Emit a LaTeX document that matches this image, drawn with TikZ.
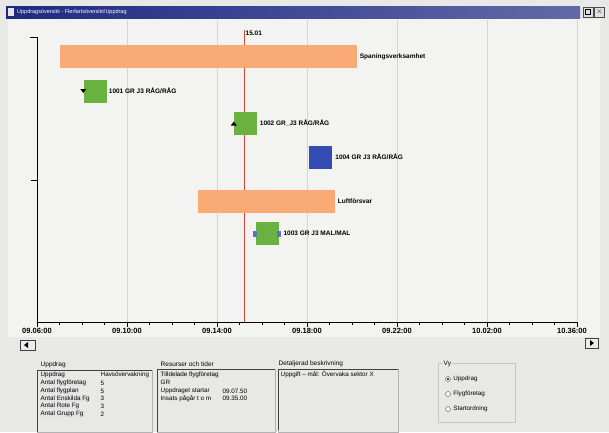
\documentclass[tikz,border=0pt]{standalone}
\usepackage{fontspec}
\setmainfont{Liberation Sans}
\usetikzlibrary{positioning}
\definecolor{winbg}{RGB}{232,232,230}
\definecolor{plotbg}{RGB}{243,243,241}
\definecolor{titleblue}{RGB}{30,42,130}
\definecolor{gridgray}{RGB}{212,212,212}
\definecolor{barorange}{RGB}{250,170,116}
\definecolor{taskgreen}{RGB}{106,178,64}
\definecolor{taskblue}{RGB}{50,76,178}
\definecolor{nowred}{RGB}{205,72,56}
\tikzset{
 bar/.style={fill=barorange,draw=none,minimum height=23pt,inner sep=0pt},
 task/.style={fill=taskgreen,draw=none,minimum width=23pt,minimum height=23pt,inner sep=0pt},
 handle/.style={fill=taskblue!80,draw=none,minimum width=4pt,minimum height=6pt,inner sep=0pt},
 tasklabel/.style={font=\fontsize{6.5}{7}\selectfont\bfseries,inner sep=0.5pt},
 timelabel/.style={font=\fontsize{7.5}{8}\selectfont\bfseries,below,inner sep=1pt},
 gridline/.style={gridgray,line width=0.5pt},
 axisline/.style={black,line width=0.7pt},
 paneltitle/.style={font=\fontsize{6.5}{7}\selectfont,anchor=west,inner sep=0.5pt},
 paneltext/.style={font=\fontsize{6.3}{7}\selectfont,anchor=west,inner sep=0.5pt},
 panelbox/.style={draw=gray!60,line width=0.6pt},
 sunken/.style={draw=black!75,line width=0.7pt},
 winbtn/.style={draw=black!70,fill=gray!25,minimum width=10pt,minimum height=10pt,inner sep=0pt,font=\fontsize{7}{7}\selectfont\bfseries},
 radio/.style={circle,draw=black!70,fill=white,minimum size=5pt,inner sep=0pt},
}
\begin{document}
\begin{tikzpicture}[x=1pt,y=-1pt]
 \useasboundingbox (0,0) rectangle (609,432);
 \fill[winbg] (0,0) rectangle (609,432);
 \fill[plotbg] (8,19) rectangle (600,337);
 \shade[left color=titleblue,right color=titleblue!70!white] (6,6) rectangle (580,18);
 \fill[white!80!gray] (8,8) rectangle (14,16);
 \node[font=\fontsize{5.5}{6}\selectfont,text=white,anchor=west,inner sep=0pt] (win title) at (17,12) {Uppdragsöversikt - Flerfartsöversikt/Uppdrag};
 \node[winbtn] (btn max) at (588,12) {};
 \draw[black,line width=0.6pt] (btn max.center) ++(-2.5,-2.5) rectangle ++(5,5);
 \node[winbtn,right=1pt of btn max] (btn close) {$\times$};
 \draw[gridline] (127,20) -- (127,322);
 \draw[gridline] (217,20) -- (217,322);
 \draw[gridline] (307,20) -- (307,322);
 \draw[gridline] (397,20) -- (397,322);
 \draw[gridline] (487,20) -- (487,322);
 \draw[gridline] (577,20) -- (577,322);
 \draw[axisline] (30,37) -- (37,37) -- (37,322) -- (577,322);
 \draw[axisline] (31,180) -- (37,180);
 \draw[axisline] (37,322) -- (37,327) (127,322) -- (127,327) (217,322) -- (217,327) (307,322) -- (307,327) (397,322) -- (397,327) (487,322) -- (487,327) (577,322) -- (577,327);
 \foreach \x in {59.5,82,104.5,149.5,172,194.5,239.5,262,284.5,329.5,352,374.5,419.5,442,464.5,509.5,532,554.5}
  \draw[black,line width=0.5pt] (\x,322) -- (\x,324.5);
 \node[timelabel] (t0906) at (37,327) {09.06:00};
 \node[timelabel] (t0910) at (127,327) {09.10:00};
 \node[timelabel] (t0914) at (217,327) {09.14:00};
 \node[timelabel] (t0918) at (307,327) {09.18:00};
 \node[timelabel] (t0922) at (397,327) {09.22:00};
 \node[timelabel] (t1002) at (487,327) {10.02:00};
 \node[timelabel] (t1036) at (572,327) {10.36:00};
 \coordinate (now top) at (244,30);
 \coordinate (now bot) at (244,322);
 \draw[nowred,line width=0.9pt] (now top) -- (now bot);
 \node[tasklabel,anchor=west] (now label) at (245,33) {15.01};
 \node[bar,minimum width=297pt] (spaning) at (208.5,56.5) {};
 \node[tasklabel,right=2pt of spaning] (spaning label) {Spaningsverksamhet};
 \node[task] (fg1001) at (95,91) {};
 \node[tasklabel,right=1.5pt of fg1001] (fg1001 label) {1001 GR J3 RÅG/RÅG};
 \fill (fg1001.west) ++(-3,-2) -- ++(6,0) -- ++(-3,4) -- cycle;
 \node[task] (fg1002) at (245.5,123.5) {};
 \node[tasklabel,right=2pt of fg1002] (fg1002 label) {1002 GR\_J3 RÅG/RÅG};
 \fill (fg1002.west) ++(-3,2) -- ++(6,0) -- ++(-3,-4) -- cycle;
 \node[task,fill=taskblue] (fg1004) at (320,157) {};
 \node[tasklabel,right=3pt of fg1004] (fg1004 label) {1004 GR J3 RÅG/RÅG};
 \node[bar,minimum width=137pt] (luftforsvar) at (266.5,201) {};
 \node[tasklabel,right=2pt of luftforsvar] (luftforsvar label) {Luftförsvar};
 \node[task] (fg1003) at (267,233.5) {};
 \node[handle] (fg1003 in) at (fg1003.west) {};
 \node[handle] (fg1003 out) at (fg1003.east) {};
 \node[tasklabel,right=2pt of fg1003 out] (fg1003 label) {1003 GR J3 MAL/MAL};
 \draw[sunken,fill=gray!15] (20,340) rectangle (35,350);
 \fill (24,345) -- (28,342) -- (28,348) -- cycle;
 \draw[sunken,fill=gray!15] (585,338) rectangle (598,348);
 \fill (594,343) -- (590,340) -- (590,346) -- cycle;
 \node[paneltitle] (upd title) at (40,365) {Uppdrag};
 \draw[panelbox] (37,370) rectangle (152,432);
 \draw[sunken] (37,432) |- (152,370);
 \node[paneltext,fill=gray!22] (upd r1) at (40,375) {Uppdrag};
 \node[paneltext,fill=gray!22] (upd r2) at (40,383) {Antal flygföretag};
 \node[paneltext,fill=gray!22] (upd r3) at (40,391) {Antal flygplan};
 \node[paneltext,fill=gray!22] (upd r4) at (40,398.5) {Antal Enskilda Fg};
 \node[paneltext,fill=gray!22] (upd r5) at (40,406) {Antal Rote Fg};
 \node[paneltext,fill=gray!22] (upd r6) at (40,414) {Antal Grupp Fg};
 \node[paneltext] (upd v1) at (100,375) {Havsövervakning};
 \node[paneltext] (upd v2) at (100,383) {5};
 \node[paneltext] (upd v3) at (100,391) {5};
 \node[paneltext] (upd v4) at (100,398.5) {3};
 \node[paneltext] (upd v5) at (100,406) {3};
 \node[paneltext] (upd v6) at (100,414) {2};
 \node[paneltitle] (res title) at (160,364) {Resurser och tider};
 \draw[panelbox] (157,369) rectangle (275,432);
 \draw[sunken] (157,432) |- (275,369);
 \node[paneltext,fill=gray!22] (res r1) at (160,375) {Tilldelade flygföretag};
 \node[paneltext,fill=gray!22] (res r2) at (160,382.5) {GR};
 \node[paneltext] (res r3) at (160,391) {Uppdraget startar};
 \node[paneltext] (res r4) at (160,398.5) {Insats pågår t o m};
 \node[paneltext] (res v3) at (222,391) {09.07.50};
 \node[paneltext] (res v4) at (222,398.5) {09.35.00};
 \node[paneltitle] (besk title) at (278,364) {Detaljerad beskrivning};
 \draw[panelbox] (278,369) rectangle (398,432);
 \draw[sunken] (278,430) |- (398,369);
 \node[paneltext] (besk r1) at (280,375) {Uppgift – mål: Övervaka sektor X};
 \draw[panelbox,draw=gray!45] (438,363) rectangle (515,422);
 \node[paneltitle,fill=winbg] (vy title) at (443,364) {Vy};
 \node[radio] (rb upd) at (448,379) {};
 \fill[black] (rb upd) circle (1.1pt);
 \node[paneltext,right=2pt of rb upd] (rb upd label) {Uppdrag};
 \node[radio] (rb fg) at (448,394) {};
 \node[paneltext,right=2pt of rb fg] (rb fg label) {Flygföretag};
 \node[radio] (rb start) at (448,409) {};
 \node[paneltext,right=2pt of rb start] (rb start label) {Startordning};
\end{tikzpicture}
\end{document}
